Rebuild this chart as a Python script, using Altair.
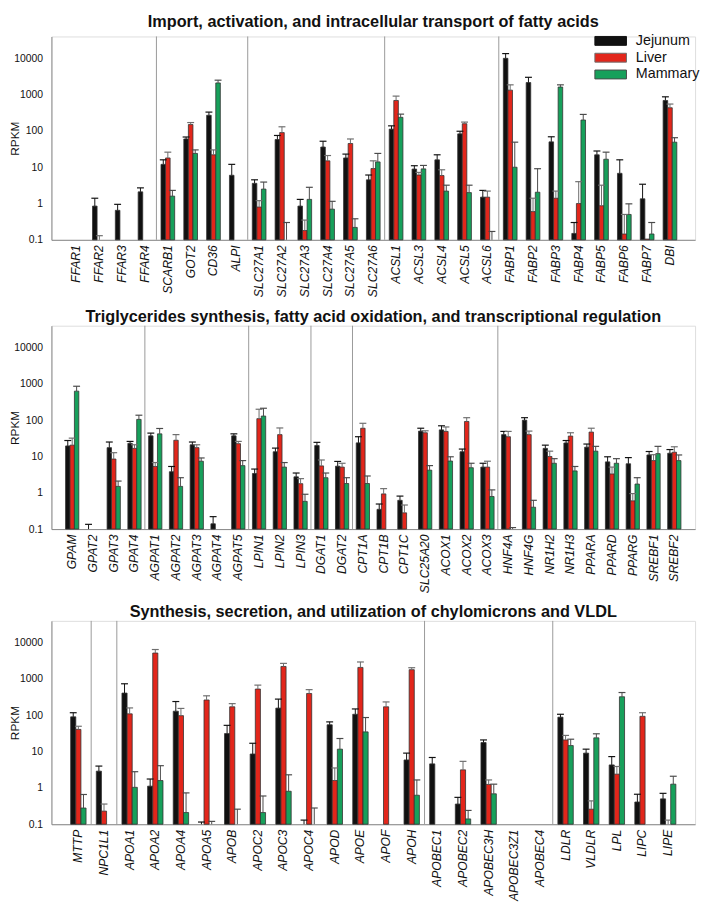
import altair as alt
import pandas as pd

TISSUES = ["Jejunum", "Liver", "Mammary"]
BAR_COLORS = ["#111111", "#e2261b", "#17a05b"]
ERR_COLORS = ["#111111", "#6e6e6e", "#4a4a4a"]
Y_TICKS = [0.1, 1, 10, 100, 1000, 10000]

# ---------------- Panel 1 ----------------
P1_TITLE = "Import, activation, and intracellular transport of fatty acids"
P1_GENES = ["FFAR1", "FFAR2", "FFAR3", "FFAR4", "SCARB1", "GOT2", "CD36", "ALPI",
            "SLC27A1", "SLC27A2", "SLC27A3", "SLC27A4", "SLC27A5", "SLC27A6",
            "ACSL1", "ACSL3", "ACSL4", "ACSL5", "ACSL6",
            "FABP1", "FABP2", "FABP3", "FABP4", "FABP5", "FABP6", "FABP7", "DBI"]
P1_JEJ = [0, 0.85, 0.65, 2.1, 12, 60, 270, 6, 3.6, 58, 0.85, 36, 18, 4.5,
          112, 8.9, 16, 83, 1.5, 10000, 2150, 50, 0.15, 22, 6.8, 1.35, 690]
P1_JEJ_UP = [None, 1.4, 0.95, 2.7, 16, 68, 330, 12, 4.5, 75, 1.3, 52, 23, 6.1,
             138, 11, 22, 98, 2.3, 13500, 3000, 69, 0.3, 28, 16, 3.4, 870]
P1_LIV = [0, 0, 0, 0, 18, 150, 22, 0, 0.8, 90, 0.18, 15, 45, 9.2,
          690, 6.1, 5.9, 158, 1.5, 1330, 0.6, 1.4, 1.0, 0.87, 0.145, 0.105, 435]
P1_LIV_UP = [None, 0.13, None, None, 26, 170, 30, None, 1.2, 130, 0.35, 21, 60, 15,
             910, 7.2, 8.5, 175, 2.2, 1860, 1.4, 2.2, 4, 3.2, 0.5, None, 550]
P1_MAM = [0, 0, 0, 0, 1.6, 24, 2100, 0, 2.5, 0, 1.3, 0.7, 0.22, 14,
          237, 9, 2.2, 2.0, 0, 10, 2.05, 1620, 200, 16.6, 0.5, 0.145, 49]
P1_MAM_UP = [None, None, None, None, 2.3, 30, 2500, None, 3.9, 0.3, 2.8, 1.15, 0.38, 24,
             290, 11.2, 3.2, 3.2, 0.17, 49, 9.1, 1860, 285, 26, 0.98, 0.3, 65]
P1_SPLITS = ["SCARB1", "SLC27A1", "ACSL1", "FABP1"]

# ---------------- Panel 2 ----------------
P2_TITLE = "Triglycerides synthesis, fatty acid oxidation, and transcriptional regulation"
P2_GENES = ["GPAM", "GPAT2", "GPAT3", "GPAT4", "AGPAT1", "AGPAT2", "AGPAT3", "AGPAT4", "AGPAT5",
            "LPIN1", "LPIN2", "LPIN3", "DGAT1", "DGAT2",
            "CPT1A", "CPT1B", "CPT1C", "SLC25A20", "ACOX1", "ACOX2", "ACOX3",
            "HNF4A", "HNF4G", "NR1H2", "NR1H3", "PPARA", "PPARD", "PPARG", "SREBF1", "SREBF2"]
P2_JEJ = [19.5, 0, 17.5, 23, 37, 3.8, 21, 0.14, 37, 3.4, 13.5, 2.75, 20, 5.4,
          23.7, 0.35, 0.62, 50, 54, 13.5, 5.1, 40, 100, 16.7, 23.5, 18, 7.1, 6.3, 11, 12.3]
P2_JEJ_UP = [27.5, 0.135, 25, 26, 44, 5.3, 25, 0.22, 42, 4.5, 17, 3.5, 24.5, 7.3,
             35, 0.49, 0.81, 60, 70, 16, 6.5, 49, 117, 20.5, 27.5, 22, 9.8, 9.3, 13.7, 15.5]
P2_LIV = [20.5, 0, 8.5, 16.7, 5.3, 28, 17.5, 0, 22.5, 110, 40, 1.78, 5.5, 5.1,
          60, 0.93, 0.28, 45, 49, 92, 5.1, 35, 40, 10, 36.5, 47, 3.3, 0.6, 7.7, 13.1]
P2_LIV_UP = [32, None, 12.7, 21, 6.8, 40, 21, None, 26, 200, 61, 2.45, 8, 6.5,
             82, 1.3, 0.46, 51, 65, 117, 7.4, 49, 50, 14, 45, 60, 5.1, 0.95, 11.2, 18.5]
P2_MAM = [630, 0, 1.5, 105, 42, 1.5, 7.4, 0, 5.6, 130, 5.1, 0.58, 2.6, 1.8,
          1.8, 0, 0, 4.2, 7.5, 4.9, 0.79, 0, 0.4, 6.5, 4, 14, 6.5, 1.74, 12, 7.7]
P2_MAM_UP = [860, None, 2.1, 137, 59, 2.6, 9.1, None, 7.7, 213, 6.8, 0.91, 3.5, 2.6,
             2.9, None, None, 5.6, 9.8, 6.5, 1.2, 0.11, 0.62, 8.7, 5.3, 19, 8.7, 2.6, 19, 11]
P2_SPLITS = ["AGPAT1", "LPIN1", "DGAT1", "CPT1A", "HNF4A"]

# ---------------- Panel 3 ----------------
P3_TITLE = "Synthesis, secretion, and utilization of chylomicrons and VLDL"
P3_GENES = ["MTTP", "NPC1L1", "APOA1", "APOA2", "APOA4", "APOA5", "APOB", "APOC2", "APOC3",
            "APOC4", "APOD", "APOE", "APOF", "APOH",
            "APOBEC1", "APOBEC2", "APOBEC3H", "APOBEC3Z1", "APOBEC4",
            "LDLR", "VLDLR", "LPL", "LIPC", "LIPE"]
P3_JEJ = [91, 2.9, 410, 1.12, 130, 0, 31.5, 8.6, 158, 0, 55, 107, 0, 5.9,
          4.6, 0.36, 17.8, 0, 0, 89, 9.1, 4.3, 0.41, 0.5]
P3_JEJ_UP = [118, 4.0, 740, 1.76, 240, 0.115, 53, 17, 280, 0.13, 66, 150, None, 9.1,
             6.9, 0.55, 21, None, None, 107, 11.7, 7.3, 0.67, 0.71]
P3_LIV = [41, 0.23, 110, 5200, 98, 265, 172, 530, 2220, 400, 1.6, 2090, 172, 1810,
          0, 3.15, 1.25, 0, 0, 21, 0.26, 2.4, 94, 0]
P3_LIV_UP = [50, 0.36, 160, 6500, 155, 345, 210, 680, 2700, 510, 3.55, 2950, 234, 2050,
             None, 5.4, 1.66, None, None, 28, 0.44, 3.9, 118, 0.13]
P3_MAM = [0.28, 0, 1.04, 1.6, 0.21, 0, 0, 0.21, 0.81, 0, 11.7, 35, 0, 0.63,
          0, 0.14, 0.69, 0, 0, 14.7, 24, 325, 0, 1.27]
P3_MAM_UP = [0.66, None, 2.8, 4.1, 0.73, 0.12, 0.26, 0.6, 2.3, 0.28, 23, 87, None, 1.66,
             None, 0.24, 1.27, None, None, 22, 31, 425, None, 2.1]
P3_SPLITS = ["NPC1L1", "APOA1", "APOBEC1", "LDLR"]

W = 652
H = 206
FONT = "Liberation Sans"


def make_frames(genes, vals, ups):
    bars, errs = [], []
    for tissue, v_list, u_list in zip(TISSUES, vals, ups):
        for g, v, u in zip(genes, v_list, u_list):
            if v and v > 0:
                bars.append({"gene": g, "tissue": tissue, "value": v})
            if u is not None:
                errs.append({"gene": g, "tissue": tissue,
                             "low": max(v, 0.1), "upper": u})
    return pd.DataFrame(bars), pd.DataFrame(errs)


def panel(title, genes, vals, ups, splits, pad_outer, off_pad, show_legend):
    bars, errs = make_frames(genes, vals, ups)
    seps = pd.DataFrame({"gene": splits})

    x_axis = alt.Axis(title=None, labelAngle=270, labelFontStyle="italic",
                      labelFontSize=12.3, labelAlign="right", labelBaseline="middle",
                      labelPadding=5, ticks=False, domainColor="#888888",
                      labelColor="#111111", labelFont=FONT)
    x_scale = alt.Scale(domain=genes, paddingInner=0, paddingOuter=pad_outer)
    y_axis = alt.Axis(title="RPKM", values=Y_TICKS, format="~g", ticks=False,
                      grid=False, labelFontSize=10.5, labelPadding=9,
                      domainColor="#888888", labelColor="#111111",
                      titleFontSize=12, titleFontWeight="normal", titleX=-30,
                      titleColor="#111111", labelFont=FONT, titleFont=FONT)
    y_scale = alt.Scale(type="log", domain=[0.1, 40000])
    off_scale = alt.Scale(domain=TISSUES, paddingInner=0, paddingOuter=off_pad)

    if show_legend:
        legend = alt.Legend(title=None, orient="none", legendX=W - 96, legendY=-6,
                            symbolType="M-1.6,-0.45H1.6V0.45H-1.6Z", symbolSize=400,
                            symbolStrokeColor="#333333", symbolStrokeWidth=1,
                            labelFontSize=14.5, labelFont=FONT, labelColor="#111111",
                            rowPadding=0, labelOffset=15)
    else:
        legend = None

    bar_layer = alt.Chart(bars).mark_bar(stroke="#333333", strokeWidth=0.8).encode(
        x=alt.X("gene:N", scale=x_scale, axis=x_axis),
        xOffset=alt.XOffset("tissue:N", scale=off_scale),
        y=alt.Y("value:Q", scale=y_scale, axis=y_axis),
        y2=alt.datum(0.1),
        color=alt.Color("tissue:N", scale=alt.Scale(domain=TISSUES, range=BAR_COLORS),
                        legend=legend),
    )

    err_stroke = alt.Stroke("tissue:N", scale=alt.Scale(domain=TISSUES, range=ERR_COLORS),
                            legend=None)
    err_layer = alt.Chart(errs).mark_rule(strokeWidth=1).encode(
        x=alt.X("gene:N", scale=x_scale, axis=x_axis),
        xOffset=alt.XOffset("tissue:N", scale=off_scale),
        y=alt.Y("low:Q", scale=y_scale, axis=y_axis),
        y2="upper:Q",
        stroke=err_stroke,
    )
    cap_layer = alt.Chart(errs).mark_point(shape="M-1,0H1", size=49, filled=False,
                                           strokeWidth=1.2, opacity=1).encode(
        x=alt.X("gene:N", scale=x_scale, axis=x_axis),
        xOffset=alt.XOffset("tissue:N", scale=off_scale),
        y=alt.Y("upper:Q", scale=y_scale, axis=y_axis),
        stroke=err_stroke,
    )
    sep_layer = alt.Chart(seps).mark_rule(color="#999999", strokeWidth=1).encode(
        x=alt.X("gene:N", scale=x_scale, axis=x_axis, bandPosition=0),
        y=alt.datum(0.1, scale=y_scale, axis=y_axis),
        y2=alt.datum(40000),
    )

    return alt.layer(sep_layer, bar_layer, err_layer, cap_layer).properties(
        width=W, height=H,
        title=alt.TitleParams(title, fontSize=16.5, fontWeight="bold", font=FONT,
                              anchor="middle", offset=0, color="#111111", frame="group"),
    )


p1 = panel(P1_TITLE, P1_GENES, [P1_JEJ, P1_LIV, P1_MAM],
           [P1_JEJ_UP, P1_LIV_UP, P1_MAM_UP], P1_SPLITS, 0.6, 1.0, True)
p2 = panel(P2_TITLE, P2_GENES, [P2_JEJ, P2_LIV, P2_MAM],
           [P2_JEJ_UP, P2_LIV_UP, P2_MAM_UP], P2_SPLITS, 0.5, 0.85, False)
p3 = panel(P3_TITLE, P3_GENES, [P3_JEJ, P3_LIV, P3_MAM],
           [P3_JEJ_UP, P3_LIV_UP, P3_MAM_UP], P3_SPLITS, 0.55, 1.0, False)

chart = alt.vconcat(p1, p2, p3, spacing=10).resolve_scale(
    x="independent", xOffset="independent", color="independent",
    stroke="independent", y="independent"
).properties(padding=0).configure_view(stroke=None).configure(font=FONT)

chart.save("out.html", embed_options={"renderer": "svg", "actions": False})
